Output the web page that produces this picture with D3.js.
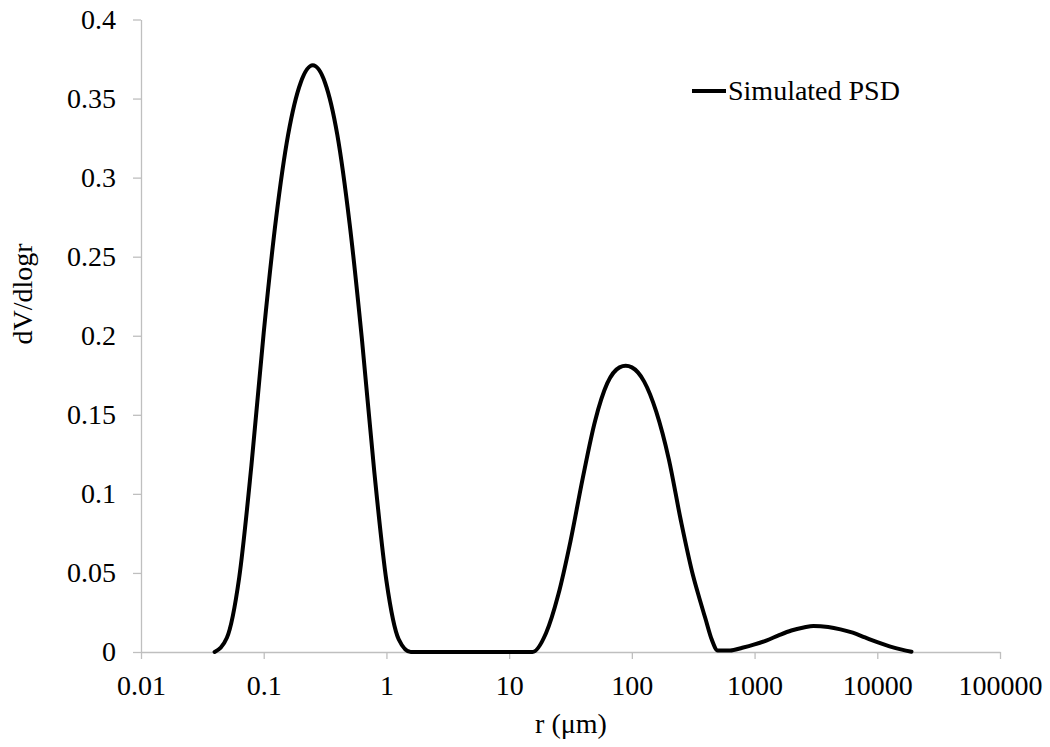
<!DOCTYPE html>
<html>
<head>
<meta charset="utf-8">
<script src="https://cdn.jsdelivr.net/npm/d3@7/dist/d3.min.js"></script>
</head>
<body style="margin:0;padding:0;background:#ffffff">
<svg id="chart" width="1050" height="747" style="display:block"></svg>
<script>
// ---- data ----
const radius = [
  0.0398, 0.0501, 0.0631, 0.0794, 0.1, 0.126, 0.158, 0.2, 0.251, 0.316, 0.398, 0.501, 0.631, 0.794, 1, 1.26, 1.58,
  15.5, 20, 25.1, 31.6, 39.8, 50.1, 63.1, 79.4, 89.1, 100, 126, 158, 200, 251, 316, 355, 398, 447, 501,
  631, 794, 1000, 1259, 1585, 1995, 2512, 3020, 3981, 5012, 6310, 7943, 10000, 12589, 15849, 19000
];
const dVdlogr = [
  0, 0.009, 0.047, 0.118, 0.202, 0.274, 0.327, 0.360, 0.371, 0.360, 0.327, 0.271, 0.198, 0.115, 0.045, 0.008, 0,
  0, 0.012, 0.036, 0.070, 0.110, 0.146, 0.170, 0.180, 0.181, 0.180, 0.171, 0.152, 0.122, 0.083, 0.048, 0.034, 0.021, 0.008, 0.001,
  0.001, 0.0027, 0.0048, 0.0074, 0.0107, 0.0136, 0.0155, 0.0165, 0.0158, 0.0143, 0.0122, 0.0092, 0.0062, 0.0036, 0.0015, 0.0002
];
const xTicks = [0.01, 0.1, 1, 10, 100, 1000, 10000, 100000];
const xTickLabels = ["0.01", "0.1", "1", "10", "100", "1000", "10000", "100000"];
const yTicks = [0, 0.05, 0.1, 0.15, 0.2, 0.25, 0.3, 0.35, 0.4];
const yTickLabels = ["0", "0.05", "0.1", "0.15", "0.2", "0.25", "0.3", "0.35", "0.4"];
const seriesName = "Simulated PSD";
const xTitle = "r (\u03bcm)";
const yTitle = "dV/dlogr";

// ---- layout ----
const svg = d3.select("#chart");
const plot = { left: 141, right: 1000, top: 19.5, bottom: 652 };
const axisColor = "#bfbfbf";
const fontFamily = '"Liberation Serif"';
const fontSize = "28px";

function styleText(sel) {
  return sel.style("font-family", fontFamily).style("font-size", fontSize).style("fill", "#000");
}

const x = d3.scaleLog().domain([0.01, 100000]).range([plot.left, plot.right]);
const y = d3.scaleLinear().domain([0, 0.4]).range([plot.bottom, plot.top]);

// x axis
const gx = svg.append("g")
  .attr("transform", `translate(0,${plot.bottom})`)
  .call(d3.axisBottom(x).tickValues(xTicks)
    .tickFormat((d, i) => xTickLabels[i])
    .tickSize(7).tickSizeOuter(0).tickPadding(16));
gx.attr("font-family", null).attr("font-size", null);
gx.select(".domain").attr("stroke", axisColor).attr("stroke-width", 1.3);
gx.selectAll(".tick line").attr("stroke", axisColor).attr("stroke-width", 1.3);
styleText(gx.selectAll(".tick text"));

// y axis
const gy = svg.append("g")
  .attr("transform", `translate(${plot.left},0)`)
  .call(d3.axisLeft(y).tickValues(yTicks)
    .tickFormat((d, i) => yTickLabels[i])
    .tickSize(8).tickSizeOuter(0).tickPadding(17));
gy.attr("font-family", null).attr("font-size", null);
gy.select(".domain").attr("stroke", axisColor).attr("stroke-width", 1.3);
gy.selectAll(".tick line").attr("stroke", axisColor).attr("stroke-width", 1.3);
styleText(gy.selectAll(".tick text"));

// line
const pts = radius.map((r, i) => ({ r, v: dVdlogr[i] }));
const line = d3.line()
  .x(d => x(d.r))
  .y(d => y(d.v))
  .curve(d3.curveMonotoneX);
svg.append("path")
  .datum(pts)
  .attr("d", line)
  .attr("fill", "none")
  .attr("stroke", "#000")
  .attr("stroke-width", 4)
  .attr("stroke-linejoin", "round")
  .attr("stroke-linecap", "round");

// axis titles
styleText(svg.append("text")
  .attr("x", 571).attr("y", 733)
  .attr("text-anchor", "middle")
  .text(xTitle));
styleText(svg.append("text")
  .attr("transform", "translate(32,294) rotate(-90)")
  .attr("text-anchor", "middle")
  .text(yTitle));

// legend
const lg = svg.append("g");
lg.append("line")
  .attr("x1", 692).attr("x2", 726).attr("y1", 91).attr("y2", 91)
  .attr("stroke", "#000").attr("stroke-width", 4);
styleText(lg.append("text")
  .attr("x", 728).attr("y", 100)
  .text(seriesName));
</script>
</body>
</html>
